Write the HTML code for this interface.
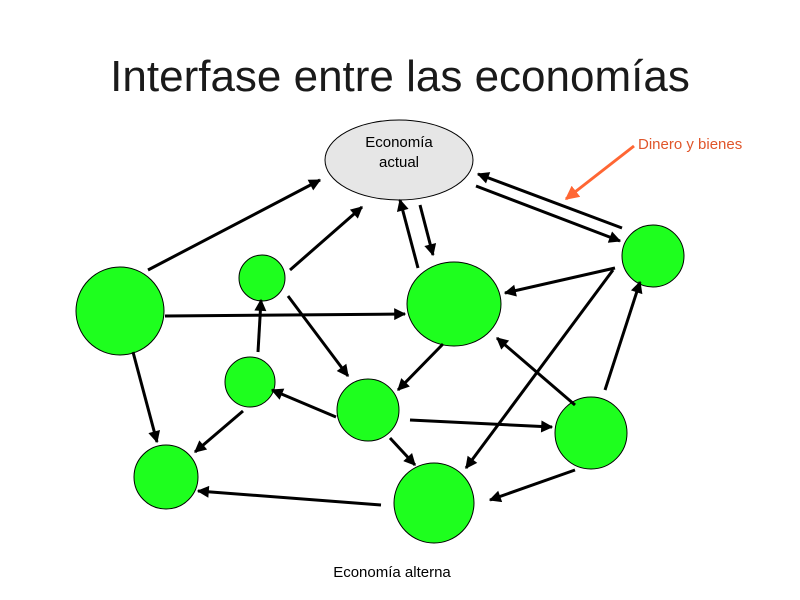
<!DOCTYPE html>
<html><head><meta charset="utf-8"><style>
html,body{margin:0;padding:0;background:#fff;width:800px;height:600px;overflow:hidden}
</style></head><body>
<svg width="800" height="600" viewBox="0 0 800 600" xmlns="http://www.w3.org/2000/svg" font-family="Liberation Sans, sans-serif">
<defs>
<marker id="o" viewBox="0 0 10 10" refX="9" refY="5" markerWidth="14" markerHeight="14" orient="auto" markerUnits="userSpaceOnUse">
<path d="M0,0 L10,5 L0,10 z" fill="#ff6633"/>
</marker>
<marker id="b" viewBox="0 0 10 10" refX="9" refY="5" markerWidth="14" markerHeight="12" orient="auto" markerUnits="userSpaceOnUse">
<path d="M0,0 L10,5 L0,10 z" fill="#000"/>
</marker>
</defs>
<rect width="800" height="600" fill="#fff"/>
<text x="400" y="91" text-anchor="middle" font-size="44" fill="#1a1a1a">Interfase entre las economías</text>
<ellipse cx="399" cy="160" rx="74" ry="40" fill="#e6e6e6" stroke="#000" stroke-width="1"/>
<text x="399" y="147" text-anchor="middle" font-size="15">Economía</text>
<text x="399" y="167" text-anchor="middle" font-size="15">actual</text>
<g fill="#1eff1e" stroke="#000" stroke-width="1">
<circle cx="120" cy="311" r="44"/>
<circle cx="262" cy="278" r="23"/>
<circle cx="250" cy="382" r="25"/>
<circle cx="368" cy="410" r="31"/>
<ellipse cx="454" cy="304" rx="47" ry="42"/>
<circle cx="653" cy="256" r="31"/>
<circle cx="591" cy="433" r="36"/>
<circle cx="434" cy="503" r="40"/>
<circle cx="166" cy="477" r="32"/>
</g>
<g stroke="#000" stroke-width="3" marker-end="url(#b)">
<line x1="148" y1="270" x2="320" y2="180"/>
<line x1="290" y1="270" x2="362" y2="207"/>
<line x1="418" y1="268" x2="400" y2="200"/>
<line x1="420" y1="205" x2="433" y2="255"/>
<line x1="622" y1="228" x2="478" y2="174"/>
<line x1="476" y1="186" x2="620" y2="241"/>
<line x1="615" y1="268" x2="505" y2="293"/>
<line x1="165" y1="316" x2="405" y2="314"/>
<line x1="258" y1="352" x2="261" y2="300"/>
<line x1="288" y1="296" x2="348" y2="376"/>
<line x1="443" y1="344" x2="398" y2="390"/>
<line x1="336" y1="417" x2="272" y2="390"/>
<line x1="243" y1="411" x2="195" y2="452"/>
<line x1="133" y1="352" x2="157" y2="442"/>
<line x1="410" y1="420" x2="552" y2="427"/>
<line x1="390" y1="438" x2="415" y2="465"/>
<line x1="575" y1="405" x2="497" y2="338"/>
<line x1="605" y1="390" x2="640" y2="282"/>
<line x1="613" y1="270" x2="466" y2="468"/>
<line x1="575" y1="470" x2="490" y2="500"/>
<line x1="381" y1="505" x2="198" y2="491"/>
</g>
<line x1="634" y1="146" x2="566" y2="199" stroke="#ff6633" stroke-width="3" marker-end="url(#o)"/>
<text x="638" y="149" font-size="15" fill="#e0552a">Dinero y bienes</text>
<text x="392" y="577" text-anchor="middle" font-size="15">Economía alterna</text>
</svg>
</body></html>
